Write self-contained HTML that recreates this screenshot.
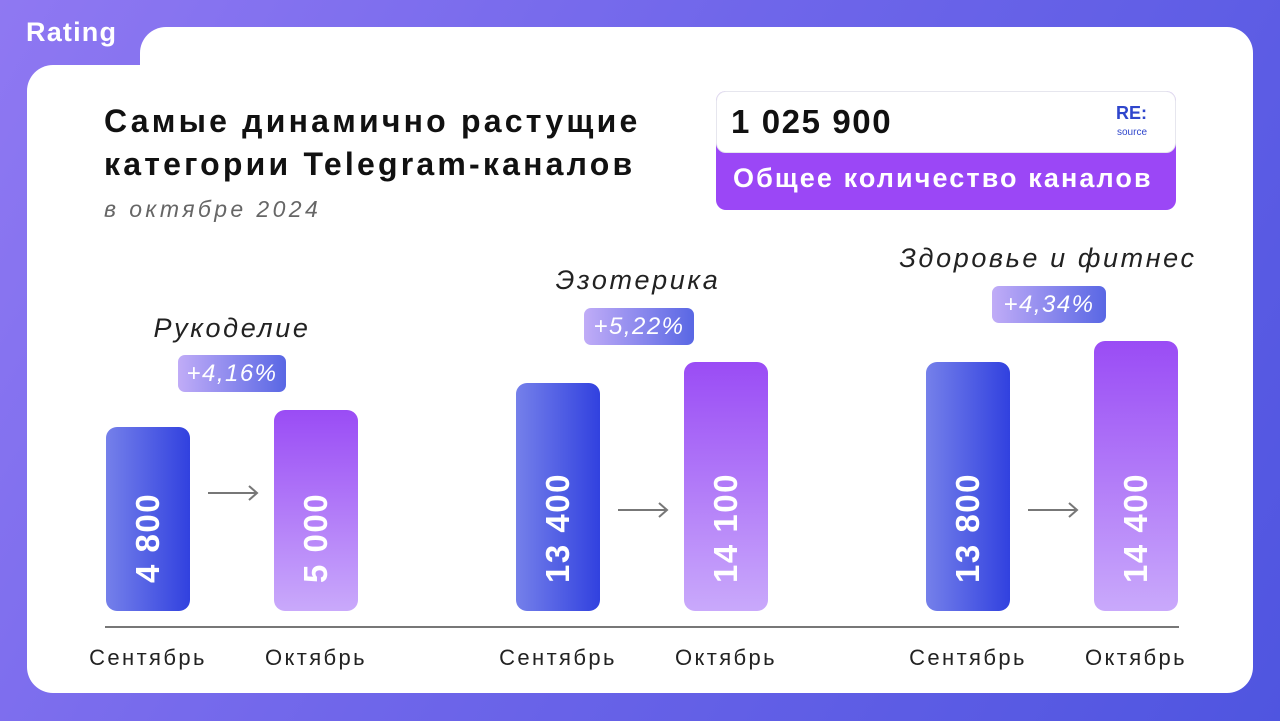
<!DOCTYPE html>
<html><head><meta charset="utf-8"><style>
*{margin:0;padding:0;box-sizing:border-box}
body{width:1280px;height:721px;overflow:hidden;position:relative;font-family:"Liberation Sans","Noto Sans CJK SC",sans-serif;background:linear-gradient(120deg,#8f78f2 0%,#6f66ea 45%,#4f55e0 100%)}
.abs{position:absolute}
.card{background:#fff;border-radius:26px}
.t{white-space:nowrap}
.sep{background:linear-gradient(90deg,#7580ea,#3141df);border-radius:11px}
.oct{background:linear-gradient(180deg,#9a4cf5,#c9a9fb);border-radius:11px}
.badge{background:linear-gradient(90deg,#c0acf7,#5967e4);border-radius:7px;color:#fff;font-size:24px;font-style:italic;text-align:center;line-height:37px;letter-spacing:1.5px}
.cat{font-size:27px;font-style:italic;color:#222;text-align:center;width:400px;letter-spacing:2.6px}
.num{height:40px;line-height:40px;color:#fff;font-weight:bold;font-size:33px;letter-spacing:1.5px;transform:rotate(-90deg);transform-origin:0 50%;white-space:nowrap}
.mon{font-size:22px;color:#222;text-align:center;width:200px;letter-spacing:2.4px}
</style></head><body>
<div class="abs t" style="left:26px;top:17px;color:#fff;font-size:27px;font-weight:bold;letter-spacing:1.2px">Rating</div>
<div class="abs card" style="left:140px;top:27px;width:1113px;height:200px"></div>
<div class="abs card" style="left:27px;top:65px;width:1226px;height:628px"></div>
<div class="abs t" style="left:104px;top:100px;font-size:32px;font-weight:bold;color:#111;line-height:43px;letter-spacing:3.2px">Самые динамично растущие<br>категории Telegram-каналов</div>
<div class="abs t" style="left:104px;top:196px;font-size:23px;font-style:italic;color:#666;letter-spacing:3.4px">в октябре 2024</div>
<div class="abs" style="left:716px;top:91px;width:460px;height:119px;border-radius:10px;background:#9b47f6"></div>
<div class="abs" style="left:716px;top:91px;width:460px;height:62px;border-radius:10px;background:#fff;border:1px solid #e6e6ee"></div>
<div class="abs t" style="left:731px;top:103px;font-size:33px;font-weight:bold;color:#111;letter-spacing:1.6px">1 025 900</div>
<div class="abs t" style="left:1116px;top:104px;font-size:18px;font-weight:bold;color:#2f46cc;line-height:18px">RE:</div>
<div class="abs t" style="left:1117px;top:127px;font-size:10px;color:#2f46cc">source</div>
<div class="abs t" style="left:733px;top:163px;font-size:27px;font-weight:bold;color:#fff;letter-spacing:2.1px">Общее количество каналов</div>

<div class="abs cat" style="left:32px;top:313px">Рукоделие</div>
<div class="abs badge" style="left:178px;top:355px;width:108px">+4,16%</div>
<div class="abs cat" style="left:438px;top:265px">Эзотерика</div>
<div class="abs badge" style="left:584px;top:308px;width:110px">+5,22%</div>
<div class="abs cat" style="left:848px;top:243px">Здоровье и фитнес</div>
<div class="abs badge" style="left:992px;top:286px;width:114px">+4,34%</div>

<div class="abs sep" style="left:106px;top:427px;width:84px;height:184px"></div>
<div class="abs oct" style="left:274px;top:410px;width:84px;height:201px"></div>
<div class="abs sep" style="left:516px;top:383px;width:84px;height:228px"></div>
<div class="abs oct" style="left:684px;top:362px;width:84px;height:249px"></div>
<div class="abs sep" style="left:926px;top:362px;width:84px;height:249px"></div>
<div class="abs oct" style="left:1094px;top:341px;width:84px;height:270px"></div>

<div class="abs num" style="left:148px;top:563px">4 800</div>
<div class="abs num" style="left:316px;top:563px">5 000</div>
<div class="abs num" style="left:558px;top:563px">13 400</div>
<div class="abs num" style="left:726px;top:563px">14 100</div>
<div class="abs num" style="left:968px;top:563px">13 800</div>
<div class="abs num" style="left:1136px;top:563px">14 400</div>

<svg class="abs" style="left:0;top:0" width="1280" height="721">
<g stroke="#777" stroke-width="2" fill="none">
<path d="M208 493H257M249 486L257 493L249 500"/>
<path d="M618 510H667M659 503L667 510L659 517"/>
<path d="M1028 510H1077M1069 503L1077 510L1069 517"/>
</g>
<rect x="105" y="626" width="1074" height="2" fill="#777"/>
</svg>
<div class="abs mon" style="left:48px;top:645px">Сентябрь</div>
<div class="abs mon" style="left:216px;top:645px">Октябрь</div>
<div class="abs mon" style="left:458px;top:645px">Сентябрь</div>
<div class="abs mon" style="left:626px;top:645px">Октябрь</div>
<div class="abs mon" style="left:868px;top:645px">Сентябрь</div>
<div class="abs mon" style="left:1036px;top:645px">Октябрь</div>
</body></html>
